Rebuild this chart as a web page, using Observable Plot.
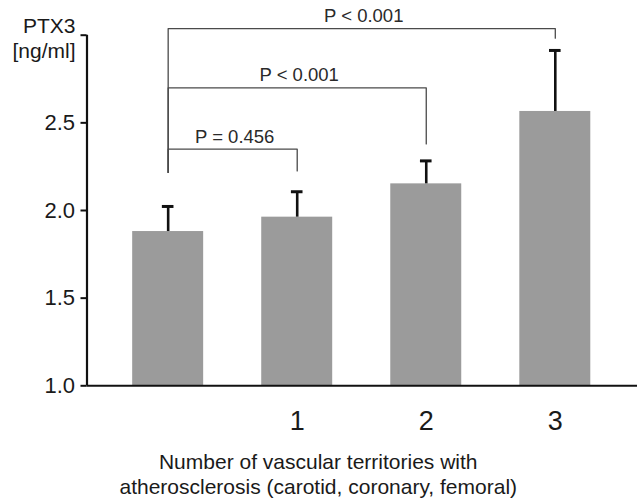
<!DOCTYPE html>
<html><head><meta charset="utf-8">
<script src="https://cdn.jsdelivr.net/npm/d3@7"></script>
<script src="https://cdn.jsdelivr.net/npm/@observablehq/plot@0.6"></script>
<style>body{margin:0;background:#fff}</style>
</head><body><div id="chart"></div>
<script>
const categories = [0, 1, 2, 3];
const xTickLabels = ["", "1", "2", "3"];
const means = [1.880, 1.962, 2.152, 2.565];
const errors = [0.143, 0.145, 0.131, 0.348];
const yTicks = [1.0, 1.5, 2.0, 2.5, 3.0];
const yTickLabels = ["1.0", "1.5", "2.0", "2.5", ""];
const bracketFrom = [0, 0, 0];
const bracketTo = [1, 2, 3];
const bracketTop = [2.35, 2.70, 3.038];
const bracketLeftEnd = [2.217, 2.217, 2.217];
const bracketRightEnd = [2.226, 2.380, 2.983];
const bracketLabels = ["P = 0.456", "P < 0.001", "P < 0.001"];
const yLabel = "PTX3\n[ng/ml]";
const xLabel = "Number of vascular territories with\natherosclerosis (carotid, coronary, femoral)";

const data = categories.map((k, i) => ({k, mean: means[i], err: errors[i]}));
const brackets = bracketLabels.map((label, i) => ({
  i, label, from: bracketFrom[i], to: bracketTo[i], top: bracketTop[i],
  l: bracketLeftEnd[i], r: bracketRightEnd[i]
}));
const bracketPts = brackets.flatMap(b => [
  {b: b.i, x: b.from, y: b.l}, {b: b.i, x: b.from, y: b.top},
  {b: b.i, x: b.to, y: b.top}, {b: b.i, x: b.to, y: b.r}
]);

const barHalf = 0.275, capHalf = 0.045;
const font = "'Liberation Sans', Arial, Helvetica, sans-serif";
const ink = "#1a1a1a";

const chart = Plot.plot({
  width: 637, height: 503,
  marginLeft: 86.5, marginRight: 0, marginTop: 34.7, marginBottom: 117.7,
  style: {fontFamily: font, background: "#fff", color: ink, overflow: "visible"},
  x: {domain: [-0.629, 3.637], axis: null},
  y: {domain: [1, 3], axis: null},
  marks: [
    Plot.rectY(data, {x1: d => d.k - barHalf, x2: d => d.k + barHalf, y1: 1, y2: "mean", fill: "#9b9b9b"}),
    Plot.ruleX(data, {x: "k", y1: "mean", y2: d => d.mean + d.err, stroke: "#111", strokeWidth: 2.6}),
    Plot.ruleY(data, {y: d => d.mean + d.err, x1: d => d.k - capHalf, x2: d => d.k + capHalf, stroke: "#111", strokeWidth: 3}),
    Plot.line(bracketPts, {x: "x", y: "y", z: "b", stroke: "#4a4a4a", strokeWidth: 1.3}),
    Plot.text(brackets, {x: d => (d.from + d.to) / 2, y: "top", text: "label", dy: -6.5, dx: 2,
      lineAnchor: "bottom", fontSize: 18.5, fill: "#2a2a2a"}),
    Plot.ruleY([1], {stroke: "#111", strokeWidth: 2}),
    Plot.ruleX([-0.629], {y1: 1, y2: 3, stroke: "#111", strokeWidth: 2.2}),
    Plot.axisY({ticks: yTicks, tickFormat: v => yTickLabels[yTicks.indexOf(v)], tickSize: 6, tickPadding: 6,
      fontSize: 22, stroke: "#111", strokeWidth: 2, fill: ink, label: null}),
    Plot.axisX({ticks: categories.slice(1), tickFormat: k => xTickLabels[k], tickSize: 0, tickPadding: 25,
      fontSize: 27, fill: ink, label: null}),
    Plot.text([yLabel], {frameAnchor: "top-left", textAnchor: "end", dx: -11.5, dy: 22.3,
      lineAnchor: "bottom", lineHeight: 25 / 21, fontSize: 21, fill: ink}),
    Plot.text([xLabel], {frameAnchor: "bottom", dx: -44, dy: 107.7,
      lineAnchor: "bottom", lineHeight: 25 / 21, fontSize: 21, fill: ink})
  ]
});
document.getElementById("chart").appendChild(chart);
</script>
</body></html>
